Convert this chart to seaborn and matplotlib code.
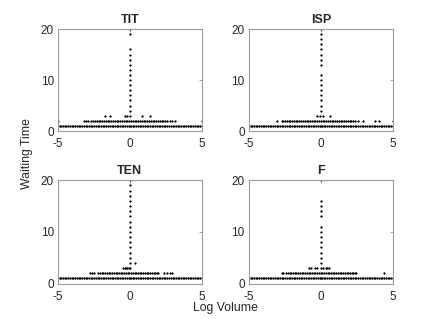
import matplotlib
matplotlib.use('Agg')
import matplotlib.pyplot as plt
import seaborn as sns
import pandas as pd

# waiting time 1: a dense row over the whole log-volume range (same look in every panel)
wait1_x = [-5.0, -4.88, -4.77, -4.64, -4.52, -4.41, -4.29, -4.16, -4.05, -3.93, -3.80, -3.69,
           -3.57, -3.44, -3.33, -3.21, -3.08, -2.97, -2.85, -2.72, -2.61, -2.49, -2.36, -2.25,
           -2.13, -2.00, -1.89, -1.77, -1.64, -1.53, -1.41, -1.28, -1.17, -1.05, -0.92, -0.81,
           -0.69, -0.56, -0.45, -0.33, -0.20, -0.09, 0.0, 0.08, 0.19, 0.31, 0.44, 0.55, 0.67,
           0.80, 0.91, 1.03, 1.16, 1.27, 1.39, 1.52, 1.63, 1.75, 1.88, 1.99, 2.11, 2.24, 2.35,
           2.47, 2.60, 2.71, 2.83, 2.96, 3.07, 3.19, 3.32, 3.43, 3.55, 3.68, 3.79, 3.91, 4.04,
           4.15, 4.27, 4.40, 4.51, 4.63, 4.76, 4.87, 5.0]

# TIT
tit_wait2_x = [-5.0, -3.17, -3.02, -2.88, -2.71, -2.58, -2.46, -2.30, -2.18, -2.05, -1.93, -1.80,
               -1.68, -1.55, -1.43, -1.30, -1.18, -1.05, -0.93, -0.80, -0.68, -0.55, -0.43, -0.30,
               -0.18, -0.05, 0.07, 0.20, 0.32, 0.45, 0.57, 0.70, 0.82, 0.95, 1.07, 1.20, 1.32,
               1.45, 1.57, 1.70, 1.82, 1.95, 2.07, 2.20, 2.32, 2.45, 2.60, 2.78, 2.95, 3.12, 5.0]
tit_wait3_x = [-1.72, -1.37, -0.33, -0.17, 0.0, 0.87, 1.40]
tit_spike_y = [4, 5, 6, 7, 8, 9, 10, 11, 12, 13, 14, 15, 16, 19, 20]

# ISP
isp_wait2_x = [-3.08, -2.73, -2.62, -2.50, -2.38, -2.25, -2.13, -2.00, -1.88, -1.75, -1.63,
               -1.50, -1.38, -1.25, -1.13, -1.00, -0.88, -0.75, -0.63, -0.50, -0.38, -0.25,
               -0.13, 0.0, 0.12, 0.25, 0.37, 0.50, 0.62, 0.75, 0.87, 1.00, 1.12, 1.25, 1.37,
               1.50, 1.62, 1.75, 1.87, 2.00, 2.12, 2.24, 2.36, 2.55, 2.94, 3.78, 4.02, 5.0]
isp_wait3_x = [-0.28, -0.05, 0.14, 0.60]
isp_spike_y = [4, 5, 6, 7, 8, 9, 10, 11, 13, 14, 15, 16, 17, 18, 19, 20]

# TEN
ten_wait2_x = [-2.76, -2.64, -2.48, -2.20, -2.08, -1.96, -1.84, -1.72, -1.60, -1.48, -1.36,
               -1.24, -1.12, -1.00, -0.88, -0.76, -0.64, -0.52, -0.40, -0.28, -0.16, -0.04,
               0.08, 0.20, 0.32, 0.44, 0.56, 0.68, 0.80, 0.92, 1.04, 1.16, 1.28, 1.40, 1.52,
               1.64, 1.76, 1.88, 1.97, 2.38, 2.61, 2.78, 2.94]
ten_wait3_x = [-0.45, -0.36, -0.27, -0.18, -0.09, 0.0]
ten_wait4_x = [0.35]
ten_spike_y = [4, 5, 6, 7, 8, 9, 10, 11, 12, 13, 14, 15, 16, 17, 18, 19, 20]

# F
f_wait2_x = [-2.72, -2.60, -2.45, -2.30, -2.18, -2.06, -1.94, -1.82, -1.70, -1.58, -1.46,
             -1.34, -1.22, -1.10, -0.98, -0.86, -0.74, -0.62, -0.50, -0.38, -0.26, -0.14,
             -0.02, 0.10, 0.22, 0.34, 0.46, 0.58, 0.70, 0.82, 0.94, 1.06, 1.18, 1.30, 1.42,
             1.54, 1.66, 1.78, 1.90, 2.02, 2.14, 2.26, 2.36, 2.46, 4.38]
f_wait3_x = [-0.85, -0.68, -0.43, -0.24, 0.0, 0.17, 0.32, 0.45, 0.56]
f_spike_y = [4, 5, 6, 7, 8, 9, 10, 11, 13, 14, 15, 16, 20]

titles = ['TIT', 'ISP', 'TEN', 'F']
x_ticks = [-5, 0, 5]
y_ticks = [0, 10, 20]


def panel_frame(wait2_x, wait3_x, spike_y, wait4_x=()):
    xs = list(wait1_x) + list(wait2_x) + list(wait3_x) + list(wait4_x) + [0.0] * len(spike_y)
    ys = ([1] * len(wait1_x) + [2] * len(wait2_x) + [3] * len(wait3_x)
          + [4] * len(wait4_x) + list(spike_y))
    return pd.DataFrame({'log_volume': xs, 'waiting_time': ys})


frames = [
    panel_frame(tit_wait2_x, tit_wait3_x, tit_spike_y),
    panel_frame(isp_wait2_x, isp_wait3_x, isp_spike_y),
    panel_frame(ten_wait2_x, ten_wait3_x, ten_spike_y, ten_wait4_x),
    panel_frame(f_wait2_x, f_wait3_x, f_spike_y),
]

sns.set_style('white')
plt.rcParams['font.family'] = ['Liberation Sans', 'DejaVu Sans']

fig = plt.figure(figsize=(4.36, 3.19), dpi=100)

# matlab-like subplot boxes (left, bottom, width, height)
positions = [
    [0.133, 0.589, 0.330, 0.320],
    [0.571, 0.589, 0.330, 0.320],
    [0.133, 0.111, 0.330, 0.324],
    [0.571, 0.111, 0.330, 0.324],
]

for title, df, pos in zip(titles, frames, positions):
    ax = fig.add_axes(pos)
    sns.scatterplot(df, x='log_volume', y='waiting_time', marker='+', s=3.5,
                    color='black', linewidth=0.9, ax=ax)
    ax.set_xlim(-5, 5)
    ax.set_ylim(0, 20)
    ax.set_xticks(x_ticks)
    ax.set_yticks(y_ticks)
    ax.set_xticklabels([str(t) for t in x_ticks])
    ax.set_xlabel('')
    ax.set_ylabel('')
    ax.set_title(title, fontsize=9, fontweight='bold', pad=4.5)
    ax.tick_params(direction='in', length=2, width=0.5, color='#808080',
                   top=True, right=True, labelsize=8.5, labelcolor='#262626')
    ax.tick_params(axis='x', pad=5)
    ax.tick_params(axis='y', pad=3)
    for spine in ax.spines.values():
        spine.set_color('#9a9a9a')
        spine.set_linewidth(0.8)

fig.text(0.516, 0.035, 'Log Volume', ha='center', va='center', fontsize=8.8, color='#262626')
fig.text(0.062, 0.52, 'Waiting Time', ha='center', va='center', rotation=90,
         fontsize=8.8, color='#262626')

fig.savefig('out.png', dpi=100)
plt.close(fig)
